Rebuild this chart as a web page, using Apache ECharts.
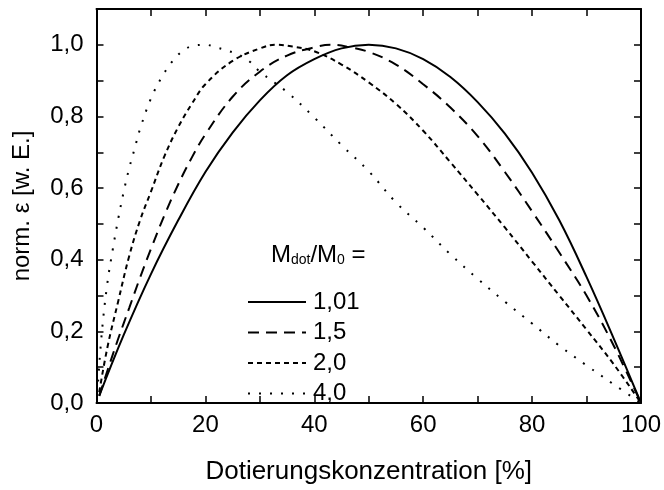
<!DOCTYPE html>
<html>
<head>
<meta charset="utf-8">
<script src="https://cdn.jsdelivr.net/npm/echarts@6/dist/echarts.min.js"></script>
<style>
  html, body { margin: 0; padding: 0; background: #fff; }
  #chart { width: 664px; height: 490px; }
</style>
</head>
<body>
<div id="chart"></div>
<script>
// ---- data: concentration [%] / normalised epsilon ----
var seriesNames = ["1,01", "1,5", "2,0", "4,0"];

var conc101 = [0.5, 5, 10, 15, 20, 25, 30, 35, 40, 45, 50, 55, 60, 65, 70, 75, 80, 85, 90, 95, 100];
var eps101  = [0.02, 0.19, 0.36, 0.51, 0.645, 0.755, 0.845, 0.915, 0.96, 0.99, 1.0, 0.99, 0.96, 0.91, 0.84, 0.752, 0.643, 0.51, 0.352, 0.18, 0.0];

var conc15 = [0.5, 2, 4, 6, 8, 10, 12.5, 15, 17.5, 20, 25, 30, 35, 40, 43, 46, 50, 55, 60, 65, 70, 75, 80, 85, 90, 95, 100];
var eps15  = [0.02, 0.09, 0.18, 0.265, 0.35, 0.43, 0.525, 0.61, 0.685, 0.75, 0.855, 0.925, 0.97, 0.993, 1.0, 0.995, 0.98, 0.945, 0.89, 0.825, 0.745, 0.645, 0.535, 0.42, 0.3, 0.16, 0.0];

var conc20 = [0.5, 2, 4, 6, 8, 10, 12.5, 15, 17.5, 20, 25, 30, 33, 36, 40, 45, 50, 55, 60, 65, 70, 75, 80, 85, 90, 95, 100];
var eps20  = [0.03, 0.155, 0.285, 0.41, 0.51, 0.59, 0.69, 0.77, 0.835, 0.89, 0.955, 0.99, 1.0, 0.995, 0.982, 0.945, 0.895, 0.835, 0.76, 0.672, 0.582, 0.49, 0.395, 0.3, 0.205, 0.108, 0.0];

var conc40 = [0.3, 1, 2, 3, 4, 5, 6, 7, 8, 10, 12, 14, 16, 18, 20, 22, 24, 26, 28, 30, 35, 40, 45, 50, 55, 60, 65, 70, 75, 80, 85, 90, 95, 100];
var eps40  = [0.06, 0.2, 0.335, 0.43, 0.515, 0.59, 0.655, 0.71, 0.765, 0.85, 0.91, 0.955, 0.985, 0.998, 1.0, 0.993, 0.984, 0.973, 0.955, 0.925, 0.868, 0.797, 0.72, 0.647, 0.56, 0.49, 0.415, 0.347, 0.283, 0.222, 0.16, 0.105, 0.052, 0.0];

var FONT = "'Liberation Sans', Arial, sans-serif";

function pairs(xs, ys) {
  return xs.map(function (x, i) { return [x, ys[i]]; });
}

function lineSeries(name, xs, ys, dash) {
  return {
    name: name,
    type: "line",
    data: pairs(xs, ys),
    xAxisIndex: 0,
    yAxisIndex: 0,
    symbol: "none",
    smooth: 0.4,
    clip: true,
    silent: true,
    itemStyle: { color: "#000" },
    lineStyle: { color: "#000", width: 2, type: dash }
  };
}

var chart = echarts.init(document.getElementById("chart"), null, { renderer: "canvas" });

var tickStyle = { show: true, inside: true, length: 7, lineStyle: { color: "#000", width: 1.5 } };
var lineStyle = { show: true, onZero: false, lineStyle: { color: "#000", width: 2 } };

chart.setOption({
  animation: false,
  backgroundColor: "#fff",
  textStyle: { fontFamily: FONT },
  grid: { left: 96.5, right: 20, top: 9, bottom: 81, containLabel: false },
  xAxis: [{
    type: "value", min: 0, max: 100, interval: 10, position: "bottom",
    axisLine: lineStyle, axisTick: tickStyle, splitLine: { show: false },
    axisLabel: {
      color: "#000", fontSize: 24, fontFamily: FONT, margin: 10,
      formatter: function (v) { return v % 20 === 0 ? String(v) : ""; }
    },
    name: "Dotierungskonzentration [%]", nameLocation: "middle", nameGap: 56,
    nameTextStyle: { color: "#000", fontSize: 26, fontFamily: FONT }
  }, {
    type: "value", min: 0, max: 100, interval: 10, position: "top",
    axisLine: lineStyle, axisTick: tickStyle, splitLine: { show: false },
    axisLabel: { show: false }
  }],
  yAxis: [{
    type: "value", min: 0, max: 1.1, interval: 0.1, position: "left",
    axisLine: lineStyle, axisTick: tickStyle, splitLine: { show: false },
    axisLabel: {
      color: "#000", fontSize: 24, fontFamily: FONT, margin: 13,
      formatter: function (v) {
        var k = Math.round(v * 10);
        return (k % 2 === 0 && k <= 10) ? v.toFixed(1).replace(".", ",") : "";
      }
    },
    name: "norm. ε [w. E.]", nameLocation: "middle", nameGap: 62, nameRotate: 90,
    nameTextStyle: { color: "#000", fontSize: 24, fontFamily: FONT }
  }, {
    type: "value", min: 0, max: 1.1, interval: 0.1, position: "right",
    axisLine: lineStyle, axisTick: tickStyle, splitLine: { show: false },
    axisLabel: { show: false }
  }],
  legend: {
    orient: "vertical",
    left: 242, top: 283,
    itemWidth: 58, itemHeight: 14, itemGap: 2.5,
    selectedMode: false,
    itemStyle: { opacity: 0 },
    textStyle: { color: "#000", fontSize: 24, fontFamily: FONT, lineHeight: 28, padding: [0, 0, 0, 2] },
    data: seriesNames
  },
  graphic: [{
    type: "text",
    left: 271, top: 243,
    silent: true,
    style: {
      text: "{m|M}{s|dot}{m|/M}{s|0}{m| =}",
      fill: "#000",
      rich: {
        m: { fontSize: 24, fontFamily: FONT, lineHeight: 28, verticalAlign: "bottom", fill: "#000" },
        s: { fontSize: 14, fontFamily: FONT, lineHeight: 6, verticalAlign: "bottom", fill: "#000" }
      }
    }
  }],
  series: [
    lineSeries(seriesNames[0], conc101, eps101, "solid"),
    lineSeries(seriesNames[1], conc15, eps15, [11, 7]),
    lineSeries(seriesNames[2], conc20, eps20, [5, 4]),
    lineSeries(seriesNames[3], conc40, eps40, [2, 9])
  ]
});
</script>
</body>
</html>
